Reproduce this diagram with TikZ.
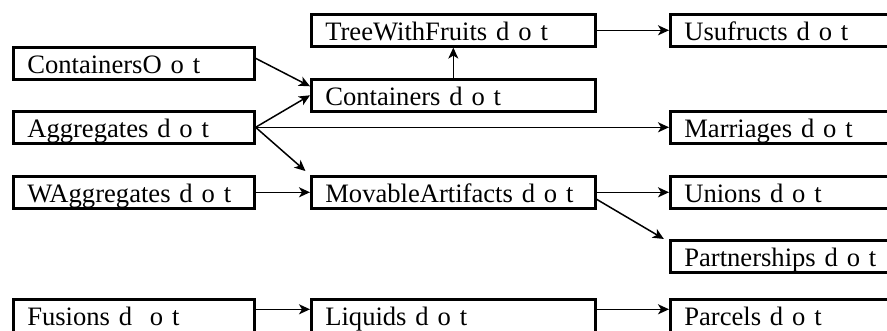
\documentclass[tikz,border=0pt]{standalone}
\usepackage{fontspec}
\setmainfont{Liberation Serif}
\usetikzlibrary{arrows.meta}
\tikzset{
  box/.style={draw,line width=1.3pt,anchor=north west,align=left,inner xsep=7pt,inner ysep=0pt,
    text height=13pt,text depth=3pt,font=\fontsize{13.3}{15}\selectfont},
  lbox/.style={box,text width=106.5pt},
  mbox/.style={box,text width=128pt},
  rbox/.style={box,text width=116pt},
  low/.style={text depth=6pt},
  link/.style={line width=0.75pt,-{Stealth[length=5.5pt,width=5pt,inset=1.5pt]}}
}
\begin{document}
\begin{tikzpicture}[x=0.5pt,y=-0.5pt]
\useasboundingbox (0,0) rectangle (887,331);
\fill[white] (0,0) rectangle (887,331);
\clip (0,0) rectangle (887,331);
% left column
\node[lbox] (ContO) at (12,46) {ContainersO o t};
\node[lbox] (Aggr) at (12,110) {Aggregates d o t};
\node[lbox] (WAggr) at (12,175) {WAggregates d o t};
\node[lbox,low] (Fus) at (12,298) {Fusions d~~o t};
% middle column
\node[mbox] (Tree) at (310,13) {TreeWithFruits d o t};
\node[mbox] (Cont) at (310,78) {Containers d o t};
\node[mbox] (Mov) at (310,175) {MovableArtifacts d o t};
\node[mbox,low] (Liq) at (310,298) {Liquids d o t};
% right column
\node[rbox] (Usuf) at (669,13) {Usufructs d o t};
\node[rbox] (Marr) at (669,110) {Marriages d o t};
\node[rbox] (Unions) at (669,175) {Unions d o t};
\node[rbox] (Partn) at (669,239) {Partnerships d o t};
\node[rbox,low] (Parc) at (669,298) {Parcels d o t};
% links
\draw[link] ([yshift=2.5pt]ContO.east) -- ([yshift=4.5pt]Cont.west);
\draw[link] (Aggr.east) -- (Cont.west);
\draw[link] (Aggr.east) -- (Marr.west);
\draw[link,shorten >=3pt] (Aggr.east) -- (Mov.north west);
\draw[link] (WAggr.east) -- (Mov.west);
\draw[link] (Cont.north) -- (Tree.south);
\draw[link] (Tree.east) -- (Usuf.west);
\draw[link] (Mov.east) -- (Unions.west);
\draw[link,shorten >=3pt] ([yshift=-3.5pt]Mov.east) -- ([yshift=-1.5pt]Partn.north west);
\draw[link] ([yshift=4.5pt]Fus.east) -- ([yshift=4.5pt]Liq.west);
\draw[link] ([yshift=4.5pt]Liq.east) -- ([yshift=4.5pt]Parc.west);
\end{tikzpicture}
\end{document}
